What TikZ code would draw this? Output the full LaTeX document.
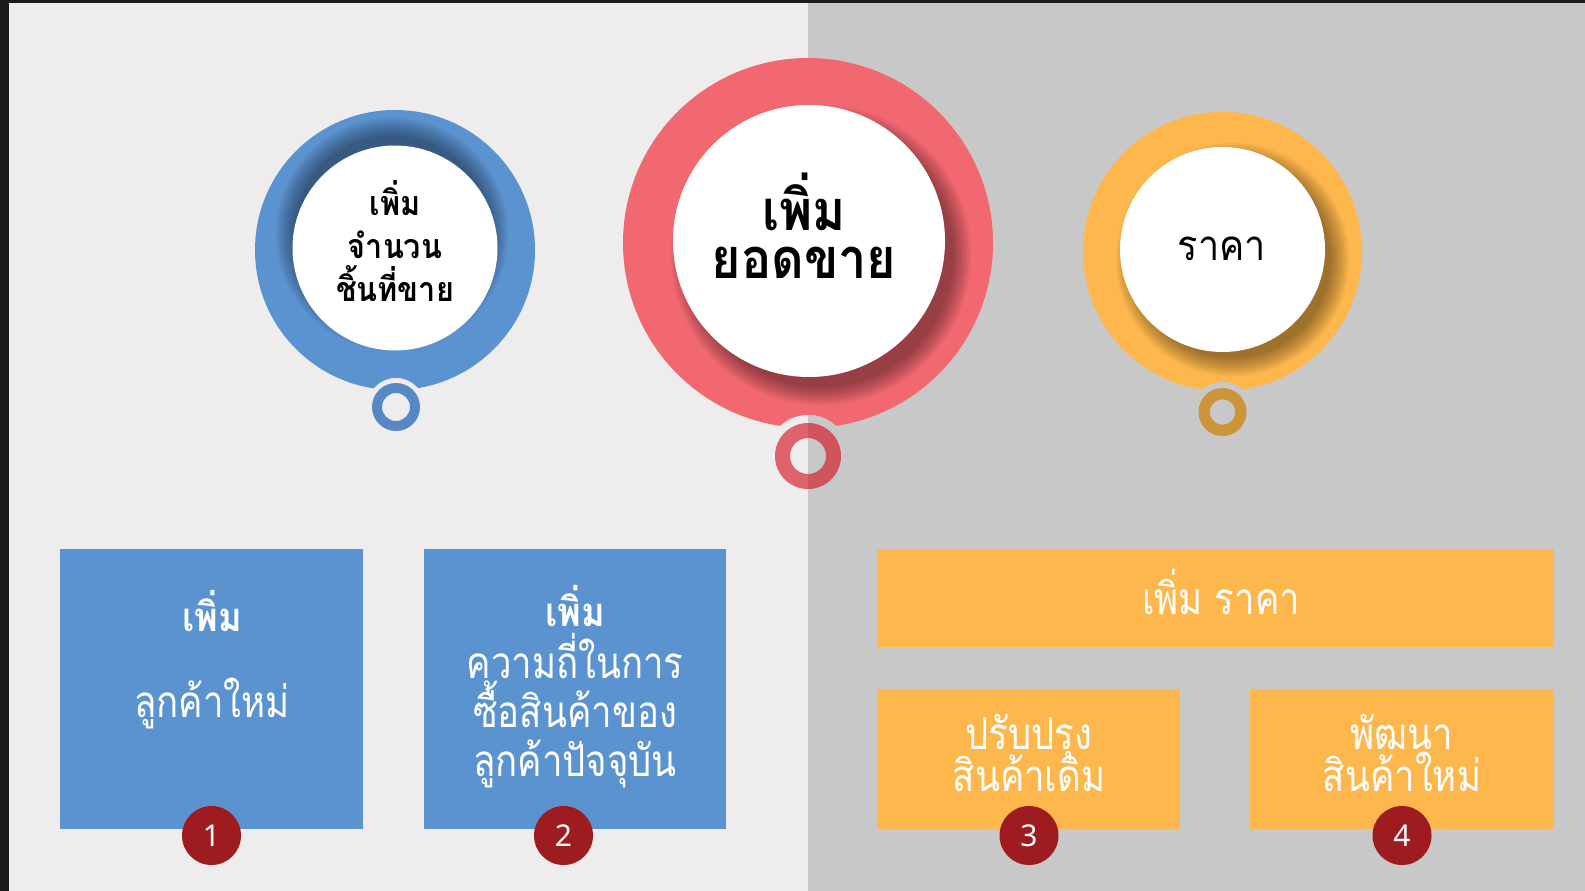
\documentclass[tikz,border=0pt]{standalone}
\usepackage{fontspec}
\usepackage{tikz}
\usetikzlibrary{calc}
\newfontfamily\thaifont[Script=Thai,FakeStretch=0.83]{Loma}
\newfontfamily\thaihead[Script=Thai,FakeStretch=0.9]{Loma}
\newfontfamily\numfont{Noto Sans}
\newcommand\tightlines{\setlength{\lineskiplimit}{-100pt}}
\definecolor{leftbg}{HTML}{EEECED}
\definecolor{rightbg}{HTML}{C8C8C8}
\definecolor{frameedge}{HTML}{1C1C1C}
\definecolor{blueacc}{HTML}{5B93D0}
\definecolor{blueknob}{HTML}{5689C4}
\definecolor{redacc}{HTML}{F16870}
\definecolor{redknob}{HTML}{D40818}
\definecolor{goldacc}{HTML}{FEB74C}
\definecolor{goldknob}{HTML}{CC953A}
\definecolor{badgered}{HTML}{9E1C20}

\begin{document}
\begin{tikzpicture}[x=1pt,y=-1pt,
    disc/.style={circle,fill=white,inner sep=0pt,minimum size=#1},
    tile/.style={fill=#1,inner sep=0pt},
    headtxt/.style 2 args={text=black,align=center,font={\thaihead\bfseries\fontsize{#1}{#2}\selectfont\tightlines}},
    boxtxt/.style={text=white,align=center,font={\thaifont\fontsize{44}{#1}\selectfont\tightlines}},
    boxtxt/.default=49,
    boldtxt/.style={text=white,font=\thaihead\bfseries\fontsize{40}{40}\selectfont},
    numbadge/.style={circle,fill=badgered,minimum size=59pt,inner sep=0pt,text=white,font=\numfont\fontsize{30}{30}\selectfont}]
  \useasboundingbox (0,0) rectangle (1585,891);
  % background halves
  \fill[frameedge] (0,0) rectangle (1585,891);
  \fill[leftbg] (9,3) rectangle (808,891);
  \fill[rightbg] (808,3) rectangle (1585,891);
  \def\castshadow#1#2#3#4{%
    \begin{scope}
      \clip #1 circle (#4);
      \foreach \k in {1,...,10}
        \fill[black,opacity=0.045] ($#1+#3$) circle (#2-6+\k*2);
    \end{scope}}

  % blue ring
  \fill[blueacc] (395,250) circle (140);
  \castshadow{(395,248)}{102.5}{(-3,-14)}{140}
  \fill[leftbg] (396,407) circle (29);
  \fill[blueknob,even odd rule] (396,407) circle (24) circle (14);
  \node[disc=205pt] (bluedisc) at (395,248) {};
  \node[headtxt={34}{43}] (bluetxt) at (395,241) {เพิ่ม\\จำนวน\\ชิ้นที่ขาย};

  % red ring
  \fill[redacc] (808,243) circle (185);
  \castshadow{(809,241)}{136}{(12,14)}{185}
  \fill[leftbg] (808,456) circle (41);
  \begin{scope}
    \clip (808,0) rectangle (1585,891);
    \fill[rightbg] (808,456) circle (41);
  \end{scope}
  \fill[redknob,opacity=0.6,even odd rule] (808,456) circle (33) circle (18);
  \node[disc=272pt] (reddisc) at (809,241) {};
  \node[headtxt={56}{48}] (redtxt) at (804,226) {เพิ่ม\\ยอดขาย};

  % gold ring
  \fill[goldacc] (1222.5,251.5) circle (139.5);
  \castshadow{(1222.5,249.5)}{102.5}{(10,10)}{139.5}
  \fill[rightbg] (1222.5,412) circle (30);
  \fill[goldknob,even odd rule] (1222.5,412) circle (24) circle (12.8);
  \node[disc=205pt] (golddisc) at (1222.5,249.5) {};
  \node[text=black,font=\thaihead\fontsize{42}{42}\selectfont] (goldtxt) at (1222,249) {ราคา};

  % lower boxes
  \node[tile=blueacc,minimum width=303pt,minimum height=280pt] (box1) at (211.5,689) {};
  \node[tile=blueacc,minimum width=302pt,minimum height=280pt] (box2) at (575,689) {};
  \node[tile=goldacc,minimum width=677pt,minimum height=98pt] (boxtop) at (1215.5,598) {};
  \node[tile=goldacc,minimum width=303pt,minimum height=140pt] (box3) at (1028.5,759) {};
  \node[tile=goldacc,minimum width=304pt,minimum height=140pt] (box4) at (1402,759) {};

  \node[boldtxt] (box1head) at (212,611) {เพิ่ม};
  \node[boxtxt] (box1txt) at (212,703) {ลูกค้าใหม่};
  \node[boldtxt] (box2head) at (575,606) {เพิ่ม};
  \node[boxtxt] (box2txt) at (575,711) {ความถี่ในการ\\ซื้อสินค้าของ\\ลูกค้าปัจจุบัน};
  \node[boxtxt] (toptxt) at (1221,592) {เพิ่ม ราคา};
  \node[boxtxt=42] (box3txt) at (1029,753) {ปรับปรุง\\สินค้าเดิม};
  \node[boxtxt=42] (box4txt) at (1402,753) {พัฒนา\\สินค้าใหม่};

  % number badges
  \node[numbadge] (num1) at (211.5,835.5) {1};
  \node[numbadge] (num2) at (563.5,835.5) {2};
  \node[numbadge] (num3) at (1029,835.5) {3};
  \node[numbadge] (num4) at (1402,835.5) {4};
\end{tikzpicture}
\end{document}
